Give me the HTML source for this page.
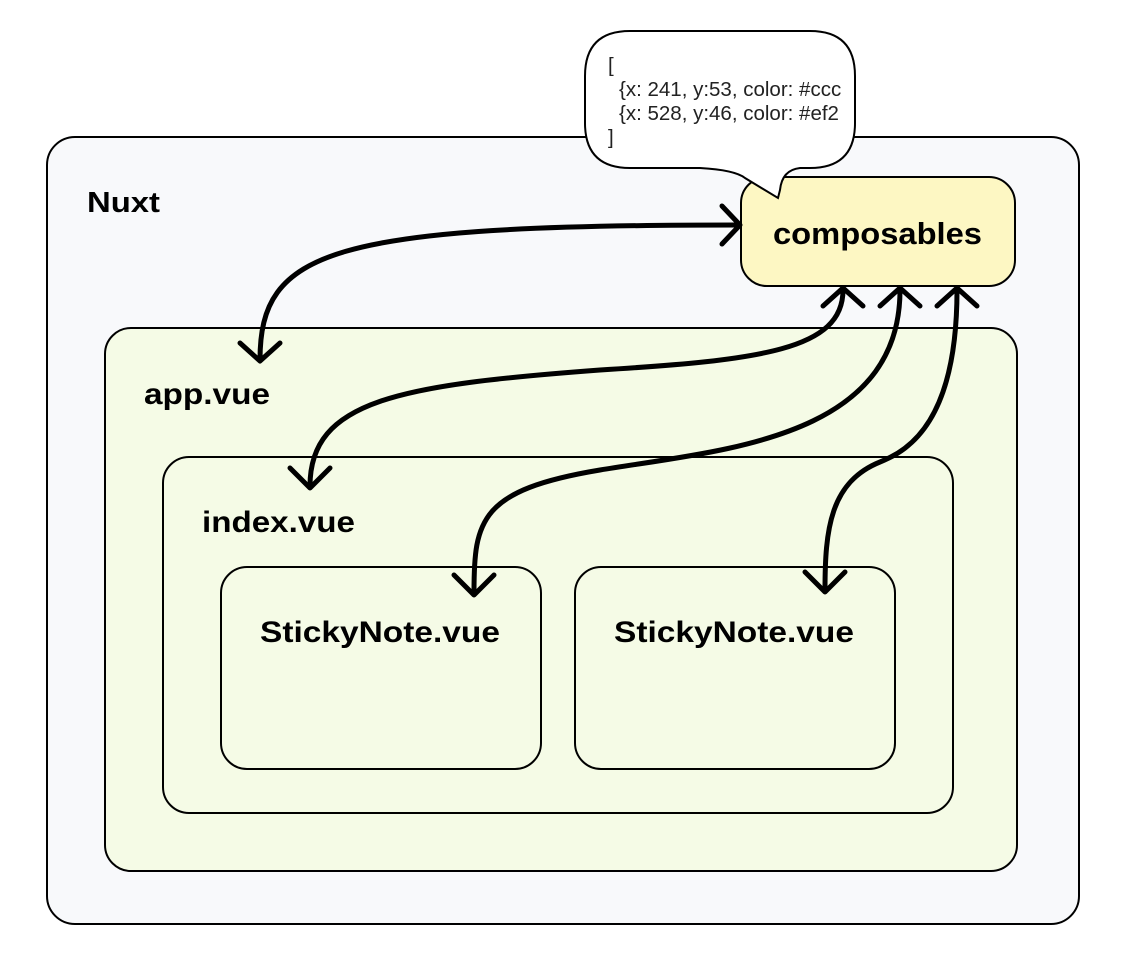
<!DOCTYPE html>
<html><head><meta charset="utf-8"><style>
html,body{margin:0;padding:0;background:#fff;}
svg{display:block;}
text{font-family:"Liberation Sans",sans-serif;}
</style></head><body>
<svg width="1126" height="956" viewBox="0 0 1126 956" xmlns="http://www.w3.org/2000/svg">
<defs><clipPath id="c"><rect x="585" y="31" width="260" height="140"/></clipPath></defs>
<rect x="47" y="137" width="1032" height="787" rx="28" fill="#f8f9fb" stroke="#000" stroke-width="2"/>
<text x="87" y="212" font-size="29" font-weight="bold" textLength="73" lengthAdjust="spacingAndGlyphs">Nuxt</text>
<rect x="105" y="328" width="912" height="543" rx="26" fill="#f5fbe6" stroke="#000" stroke-width="2"/>
<text x="144" y="404" font-size="30" font-weight="bold" textLength="126" lengthAdjust="spacingAndGlyphs">app.vue</text>
<rect x="163" y="457" width="790" height="356" rx="26" fill="#f5fbe6" stroke="#000" stroke-width="2"/>
<text x="202" y="532" font-size="30" font-weight="bold" textLength="153" lengthAdjust="spacingAndGlyphs">index.vue</text>
<rect x="221" y="567" width="320" height="202" rx="26" fill="#f5fbe6" stroke="#000" stroke-width="2"/>
<text x="260" y="642" font-size="30" font-weight="bold" textLength="240" lengthAdjust="spacingAndGlyphs">StickyNote.vue</text>
<rect x="575" y="567" width="320" height="202" rx="26" fill="#f5fbe6" stroke="#000" stroke-width="2"/>
<text x="614" y="642" font-size="30" font-weight="bold" textLength="240" lengthAdjust="spacingAndGlyphs">StickyNote.vue</text>
<rect x="741" y="177" width="274" height="109" rx="26" fill="#fdf7c3" stroke="#000" stroke-width="2"/>
<text x="773" y="244" font-size="31" font-weight="bold" textLength="209" lengthAdjust="spacingAndGlyphs">composables</text>
<!-- bubble -->
<path d="M 630 31 L 810 31 Q 855 31 855 76 L 855 123 Q 855 168 810 168 L 800 168 Q 782 170 780 190 L 778 198 L 745 178 Q 735 170 700 168 L 630 168 Q 585 168 585 123 L 585 76 Q 585 31 630 31 Z" fill="#fff" stroke="#000" stroke-width="2"/>
<g font-size="20.5" fill="#222" clip-path="url(#c)">
<text x="608" y="72">[</text>
<text x="619" y="96">{x: 241, y:53, color: #ccc</text>
<text x="619" y="120">{x: 528, y:46, color: #ef2</text>
<text x="608" y="144">]</text>
</g>
<!-- arrows -->
<g fill="none" stroke="#000" stroke-width="5" stroke-linecap="round" stroke-linejoin="round">
<path d="M 260 360 C 260 250 330 225 738 225"/>
<path d="M 722 206 L 740 225 L 722 244"/>
<path d="M 240 343 L 260 361 L 280 343"/>
<path d="M 843 290 C 843 350 760 360 600 370 C 400 385 310 400 310 486"/>
<path d="M 823 306 L 843 288 L 863 306"/>
<path d="M 290 468 L 310 488 L 330 468"/>
<path d="M 900 290 C 900 440 720 450 600 470 C 480 490 474 520 474 592"/>
<path d="M 880 306 L 900 288 L 920 306"/>
<path d="M 454 575 L 474 595 L 494 575"/>
<path d="M 957 290 C 957 420 910 450 880 462 C 830 482 825 530 825 590"/>
<path d="M 937 306 L 957 288 L 977 306"/>
<path d="M 805 572 L 825 592 L 845 572"/>
</g>
</svg>
</body></html>
